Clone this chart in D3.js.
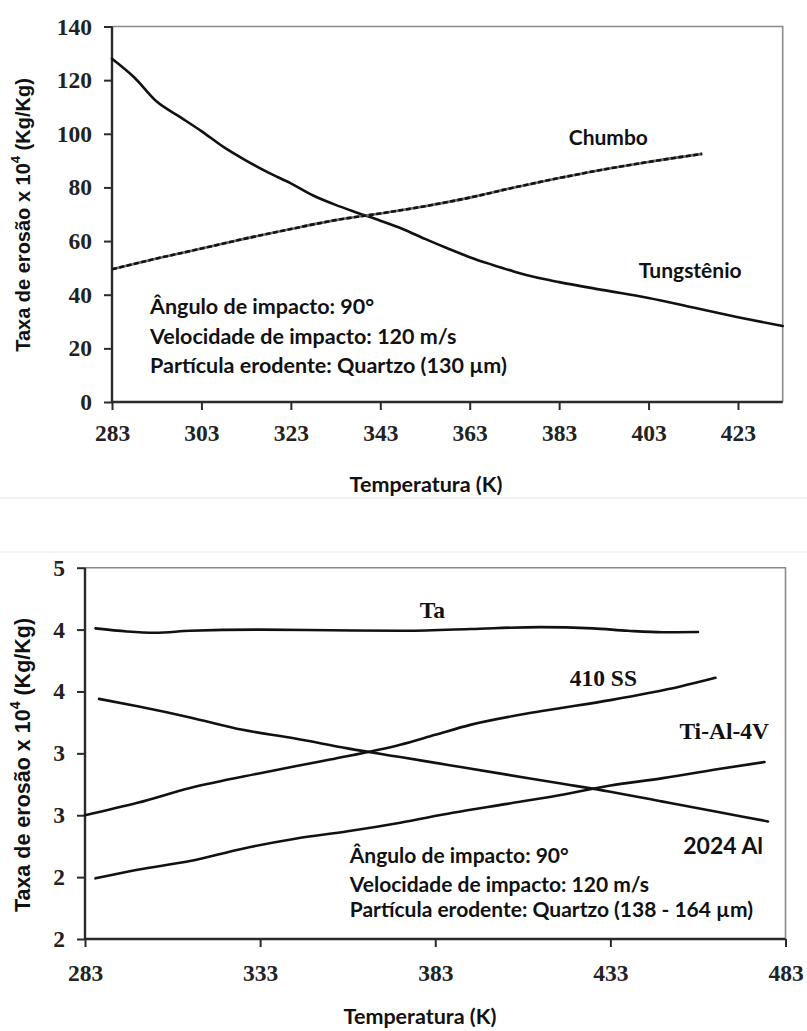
<!DOCTYPE html>
<html>
<head>
<meta charset="utf-8">
<script src="https://cdn.jsdelivr.net/npm/d3@7/dist/d3.min.js"></script>
<style>
  html, body { margin: 0; padding: 0; background: #fff; }
  svg { display: block; }
  .tick text { font-family: "Liberation Serif", "Times New Roman", serif; font-weight: bold; font-size: 23.5px; fill: #222; }
  .sans { font-family: Lato, "Open Sans", sans-serif; font-weight: bold; fill: #111; }
  .serif { font-family: "Liberation Serif", "Times New Roman", serif; font-weight: bold; fill: #111; }
  .ytitle { font-family: "Liberation Sans", Arial, sans-serif; font-weight: bold; fill: #111; }
</style>
</head>
<body>
<svg id="chart" width="807" height="1031"></svg>
<script>
// ---- Erosion rate vs temperature: tungsten and lead ----
const tungstenTemp = [283, 288, 293, 298, 303, 308, 313, 318, 323, 328, 333, 338, 343, 348, 353, 358, 363, 368, 373, 378, 383, 393, 403, 413, 423, 433];
const tungstenRate = [128, 121, 112, 106.5, 101, 95, 90, 85.5, 81.5, 77, 73.5, 70.5, 67.6, 64.5, 60.8, 57.3, 54, 51.2, 48.6, 46.4, 44.7, 41.7, 38.8, 35.2, 31.6, 28.3];
const leadTemp = [283, 293, 303, 313, 323, 333, 343, 353, 363, 373, 383, 393, 403, 415];
const leadRate = [49.5, 53.5, 57.2, 61, 64.5, 67.8, 70.3, 73, 76.2, 80, 83.5, 86.7, 89.5, 92.5];
const topXTicks = [283, 303, 323, 343, 363, 383, 403, 423];
const topYTicks = [0, 20, 40, 60, 80, 100, 120, 140];
const topNotes = ["Ângulo de impacto: 90°", "Velocidade de impacto: 120 m/s", "Partícula erodente: Quartzo (130 µm)"];

// ---- Erosion rate vs temperature: Ta, 410 SS, Ti-Al-4V, 2024 Al ----
const taTemp = [286, 295, 303, 313, 333, 353, 373, 393, 413, 428, 438, 448, 458];
const taRate = [4.51, 4.485, 4.475, 4.49, 4.50, 4.495, 4.49, 4.505, 4.52, 4.51, 4.49, 4.478, 4.48];
const ss410Temp = [283, 298, 313, 333, 353, 373, 383, 393, 413, 433, 453, 463];
const ss410Rate = [3.00, 3.10, 3.22, 3.34, 3.45, 3.57, 3.65, 3.73, 3.84, 3.93, 4.04, 4.11];
const al2024Temp = [287, 298, 313, 328, 343, 358, 373, 388, 403, 418, 433, 448, 463, 478];
const al2024Rate = [3.94, 3.88, 3.79, 3.69, 3.62, 3.54, 3.47, 3.40, 3.33, 3.26, 3.19, 3.11, 3.03, 2.95];
const tiTemp = [286, 298, 313, 328, 343, 358, 373, 388, 403, 418, 433, 448, 463, 477];
const tiRate = [2.49, 2.56, 2.63, 2.73, 2.81, 2.87, 2.94, 3.02, 3.09, 3.16, 3.24, 3.30, 3.37, 3.43];
const bottomXTicks = [283, 333, 383, 433, 483];
const bottomYTicks = [2, 2.5, 3, 3.5, 4, 4.5, 5];
const bottomYTickLabels = ["2", "2", "3", "3", "4", "4", "5"];
const bottomNotes = ["Ângulo de impacto: 90°", "Velocidade de impacto: 120 m/s", "Partícula erodente: Quartzo (138 - 164 µm)"];

const svg = d3.select("#chart");

// faint seams between the two panels
svg.append("line").attr("x1", 0).attr("x2", 807).attr("y1", 498).attr("y2", 498).attr("stroke", "#f2f2f2").attr("stroke-width", 2);
svg.append("line").attr("x1", 0).attr("x2", 807).attr("y1", 552).attr("y2", 552).attr("stroke", "#f4f4f4").attr("stroke-width", 2);

function zip(xs, ys) { return xs.map((x, i) => ({ x, y: ys[i] })); }

function panel(opts) {
  const { left, right, top, bottom, xDomain, yDomain, xTicks, yTicks, yFmt, xPad } = opts;
  const x = d3.scaleLinear().domain(xDomain).range([left, right]);
  const y = d3.scaleLinear().domain(yDomain).range([bottom, top]);
  const g = svg.append("g");

  // top and right frame
  g.append("path")
    .attr("d", `M${left},${top}H${right}V${bottom}`)
    .attr("fill", "none").attr("stroke", "#8a8a8a").attr("stroke-width", 1.6);

  const yAxis = d3.axisLeft(y).tickValues(yTicks).tickSize(8).tickPadding(12).tickFormat(yFmt);
  const ya = g.append("g").attr("transform", `translate(${left},0)`).call(yAxis);
  const xAxis = d3.axisBottom(x).tickValues(xTicks).tickSize(8).tickPadding(xPad).tickFormat(d3.format("d"));
  const xa = g.append("g").attr("transform", `translate(0,${bottom})`).call(xAxis);
  [ya, xa].forEach(a => {
    a.select(".domain").attr("stroke", "#2a2a2a").attr("stroke-width", 2.4);
    a.selectAll(".tick line").attr("stroke", "#2a2a2a").attr("stroke-width", 2);
  });
  // the axis paths include outer ticks; redraw as straight lines
  ya.select(".domain").attr("d", `M0,${top}V${bottom}`);
  xa.select(".domain").attr("d", `M${left},0H${right}`);
  return { g, x, y };
}

function drawLine(p, xs, ys, dashed) {
  const line = d3.line().x(d => p.x(d.x)).y(d => p.y(d.y)).curve(d3.curveMonotoneX);
  const data = zip(xs, ys);
  if (dashed) {
    p.g.append("path").datum(data).attr("d", line)
      .attr("fill", "none").attr("stroke", "#6a6a6a").attr("stroke-width", 2.6);
    p.g.append("path").datum(data).attr("d", line)
      .attr("fill", "none").attr("stroke", "#111").attr("stroke-width", 2.6)
      .attr("stroke-dasharray", "5,2.5");
  } else {
    p.g.append("path").datum(data).attr("d", line)
      .attr("fill", "none").attr("stroke", "#111").attr("stroke-width", 2.6)
      .attr("stroke-linecap", "round");
  }
}

function label(p, tx, v, text, cls, size, anchor) {
  p.g.append("text").attr("class", cls)
    .attr("x", p.x(tx)).attr("y", p.y(v))
    .attr("dominant-baseline", "central")
    .attr("text-anchor", anchor || "middle")
    .style("font-size", size + "px")
    .text(text);
}

function yTitle(cx, cy, size) {
  const t = svg.append("text").attr("class", "ytitle")
    .attr("transform", `translate(${cx},${cy}) rotate(-90)`)
    .attr("text-anchor", "middle")
    .attr("dominant-baseline", "central")
    .style("font-size", size + "px");
  t.append("tspan").text("Taxa de erosão x 10");
  t.append("tspan").attr("baseline-shift", "super").style("font-size", (size * 0.65) + "px").text("4");
  t.append("tspan").text(" (Kg/Kg)");
}

function xTitle(cx, cy) {
  svg.append("text").attr("class", "sans")
    .attr("x", cx).attr("y", cy)
    .attr("text-anchor", "middle").attr("dominant-baseline", "central")
    .style("font-size", "21.5px")
    .text("Temperatura (K)");
}

// ---------- upper panel ----------
const p1 = panel({
  left: 112, right: 782.7, top: 26.5, bottom: 402,
  xDomain: [283, 433], yDomain: [0, 140],
  xTicks: topXTicks, yTicks: topYTicks, yFmt: d3.format("d"), xPad: 14
});
drawLine(p1, tungstenTemp, tungstenRate, false);
drawLine(p1, leadTemp, leadRate, true);
label(p1, 394, 98.9, "Chumbo", "sans", 21);
label(p1, 412.3, 49.3, "Tungstênio", "sans", 21);
const noteV1 = [35.8, 24.6, 13.8];
topNotes.forEach((t, i) => label(p1, 291.5, noteV1[i], t, "sans", 21.5, "start"));
yTitle(23, 215, 20);
xTitle(426, 484);

// ---------- lower panel ----------
const p2 = panel({
  left: 85, right: 785.5, top: 567.7, bottom: 939,
  xDomain: [283, 483], yDomain: [2, 5],
  xTicks: bottomXTicks, yTicks: bottomYTicks,
  yFmt: (d, i) => bottomYTickLabels[i], xPad: 17
});
drawLine(p2, taTemp, taRate, false);
drawLine(p2, ss410Temp, ss410Rate, false);
drawLine(p2, al2024Temp, al2024Rate, false);
drawLine(p2, tiTemp, tiRate, false);
label(p2, 382.2, 4.66, "Ta", "serif", 23.5);
label(p2, 431, 4.11, "410 SS", "serif", 23.5);
label(p2, 465.5, 3.68, "Ti-Al-4V", "serif", 23.5);
label(p2, 465.2, 2.76, "2024 Al", "sans", 23);
const noteV2 = [2.68, 2.45, 2.25];
bottomNotes.forEach((t, i) => label(p2, 358.6, noteV2[i], t, "sans", 21, "start"));
yTitle(23, 765, 21.5);
xTitle(420, 1016);
</script>
</body>
</html>
